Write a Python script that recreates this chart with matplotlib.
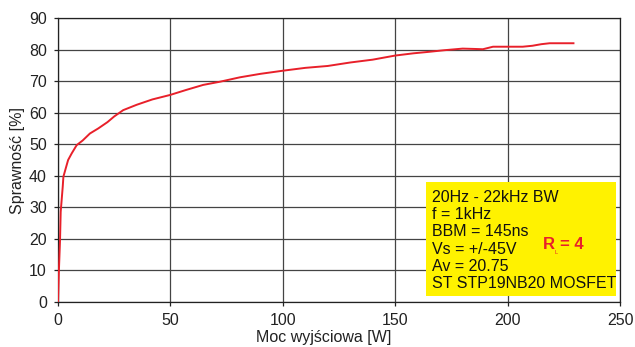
#-*-coding:utf-8-*-
import matplotlib
matplotlib.use('Agg')
import matplotlib.pyplot as plt
import numpy as np

# dane
moc = [0, 0.4, 0.9, 1.2, 2.1, 2.4, 3.5, 4.5, 6.1, 8.3, 11, 14.2, 17.9, 22, 25, 29, 35, 42,
       49.8, 57, 64.6, 72, 80.9, 90, 100.1, 110, 120, 130, 140, 150, 158, 165.3, 172, 180,
       185, 189, 193.5, 200, 206.7, 211, 215, 218.7, 224, 229.3]
sprawnosc = [0, 10, 19.6, 28.6, 36.5, 39.7, 42.5, 45, 47.1, 49.7, 51.2, 53.4, 55, 57, 58.8,
             60.8, 62.5, 64.2, 65.6, 67.2, 68.8, 69.8, 71.2, 72.3, 73.3, 74.2, 74.8, 75.9,
             76.8, 78.1, 78.8, 79.3, 79.8, 80.3, 80.2, 80.1, 80.9, 80.9, 80.9, 81.2, 81.7,
             82, 82, 82]
xticks = [0, 50, 100, 150, 200, 250]
yticks = [0, 10, 20, 30, 40, 50, 60, 70, 80, 90]
opis = ['20Hz - 22kHz BW', 'f = 1kHz', 'BBM = 145ns', 'Vs = +/-45V', 'Av = 20.75',
        'ST STP19NB20 MOSFET']

plt.rcParams['font.family'] = ['Liberation Sans', 'DejaVu Sans']

fig = plt.figure(figsize=(6.35, 3.47), dpi=100)
ax = fig.add_axes([58/635, 45/347, 562/635, 284/347])

ax.plot(moc, sprawnosc, color='#e8202a', lw=1.4, zorder=3)
ax.set_xlim(0, 250)
ax.set_ylim(0, 90)
ax.set_xticks(xticks)
ax.set_yticks(yticks)
ax.grid(True, color='#444444', lw=0.9)
ax.set_axisbelow(True)
for s in ax.spines.values():
    s.set_color('#222222')
    s.set_linewidth(0.9)
ax.tick_params(direction='out', length=3, width=0.9, color='#222222',
               labelsize=11.5, labelcolor='#222222', pad=5)

ax.set_xlabel(u'Moc wyjściowa [W]', fontsize=11.5, color='#222222', va='baseline')
ax.xaxis.set_label_coords((324-58)/562, (302-342)/284)
ax.set_ylabel(u'Sprawność [%]', fontsize=11.5, color='#222222')
ax.yaxis.set_label_coords((25-58)/562, 0.5)

# żółta ramka z opisem
ramka = plt.Rectangle((163.6, 1.9), 84.5, 36.0, facecolor='#fff200', edgecolor='none', zorder=4)
ax.add_patch(ramka)
for i, t in enumerate(opis):
    ax.text(166.2, 31.8 - i*5.48, t, fontsize=11.5, color='#111111', va='baseline', zorder=5)
ax.text(215.7, 16.8, 'R', fontsize=12, color='#e8202a', fontweight='bold', va='baseline', zorder=5)
ax.text(220.8, 15.3, 'L', fontsize=4, color='#e8202a', va='baseline', zorder=5)
ax.text(223.2, 16.8, '= 4', fontsize=12, color='#e8202a', fontweight='bold', va='baseline', zorder=5)

fig.savefig('out.png', dpi=100)
